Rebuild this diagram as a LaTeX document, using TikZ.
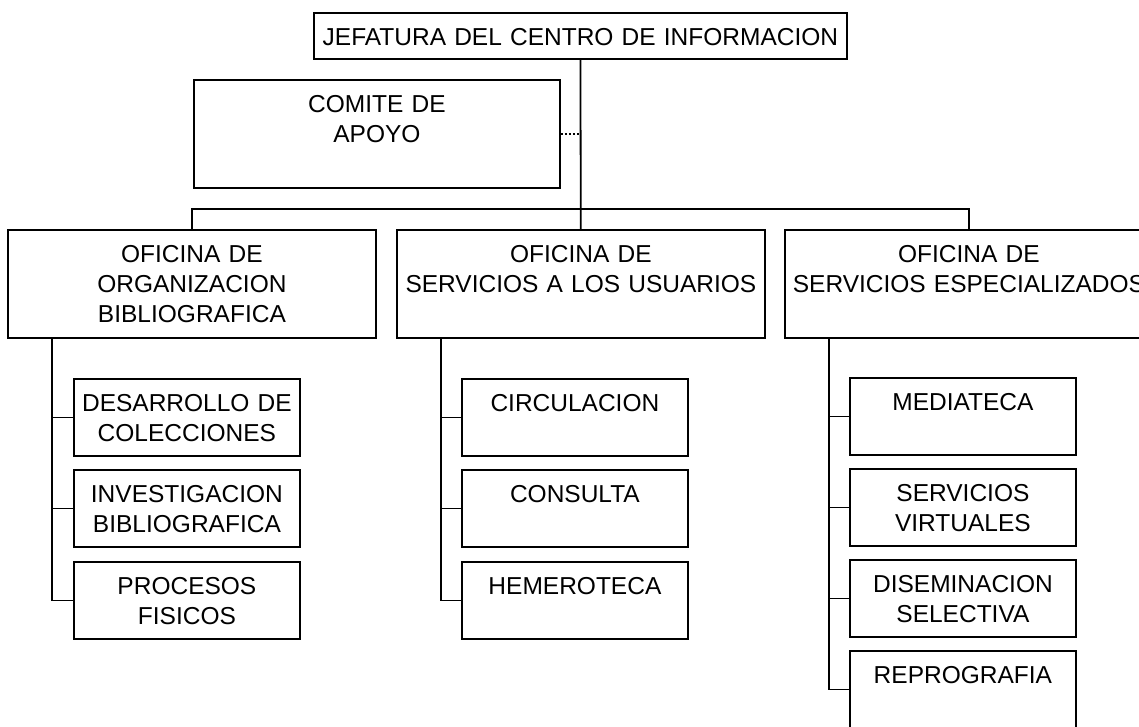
\documentclass[tikz,border=0pt]{standalone}
\usepackage{fontspec}
\setmainfont{Liberation Sans}

\begin{document}
\begin{tikzpicture}[x=1pt, y=-1pt,
    caja/.style ={draw, line width=1.8pt, inner sep=0pt, anchor=north west,
      align=center, text height=32.5pt, font=\fontsize{24.5}{30}\selectfont},
    oficina/.style ={caja, text width=368pt, text depth=75.5pt},
    seccion/.style ={caja, text width=226pt, text depth=44.5pt},
    linea/.style ={line width=1.8pt}]
   \useasboundingbox (0,0) rectangle (1139,727);
   \node[caja, text width=533pt, text depth=13.5pt] (J) at (313,12) {JEFATURA DEL CENTRO DE INFORMACION};
   \node[caja, text width=366pt, text depth=75.5pt] (C) at (193,79) {COMITE DE\\APOYO};
   \node[oficina] (O1) at (7,229)   {OFICINA DE\\ORGANIZACION\\BIBLIOGRAFICA};
   \node[oficina] (O2) at (396,229) {OFICINA DE\\SERVICIOS A LOS USUARIOS};
   \node[oficina] (O3) at (784,229) {OFICINA DE\\SERVICIOS ESPECIALIZADOS};
   \node[seccion] (A1) at (73,378)  {DESARROLLO DE\\COLECCIONES};
   \node[seccion] (A2) at (73,469)  {INVESTIGACION\\BIBLIOGRAFICA};
   \node[seccion] (A3) at (73,561)  {PROCESOS\\FISICOS};
   \node[seccion] (B1) at (461,378) {CIRCULACION};
   \node[seccion] (B2) at (461,469) {CONSULTA};
   \node[seccion] (B3) at (461,561) {HEMEROTECA};
   \node[seccion] (D1) at (849,377) {MEDIATECA};
   \node[seccion] (D2) at (849,468) {SERVICIOS\\VIRTUALES};
   \node[seccion] (D3) at (849,559) {DISEMINACION\\SELECTIVA};
   \node[seccion] (D4) at (849,650) {REPROGRAFIA};
   \coordinate (bus) at (579.5,209);
   \coordinate (eA) at (52,337);
   \coordinate (eB) at (441,337);
   \coordinate (eD) at (829,337);
   \draw[linea] (J) to (O2);
   \draw[linea] (O1.north) |- (bus) -| (O3.north);
   \draw[line width=1.4pt, dash pattern=on 2.5pt off 1.5pt] (C.east) to (C.east -| J.south);
   \draw[linea] (eA) |- (A3.west);
   \draw[linea] (A1.west) to (A1.west -| eA);
   \draw[linea] (A2.west) to (A2.west -| eA);
   \draw[linea] (eB) |- (B3.west);
   \draw[linea] (B1.west) to (B1.west -| eB);
   \draw[linea] (B2.west) to (B2.west -| eB);
   \draw[linea] (eD) |- (D4.west);
   \draw[linea] (D1.west) to (D1.west -| eD);
   \draw[linea] (D2.west) to (D2.west -| eD);
   \draw[linea] (D3.west) to (D3.west -| eD);
 \end{tikzpicture}
\end{document}
